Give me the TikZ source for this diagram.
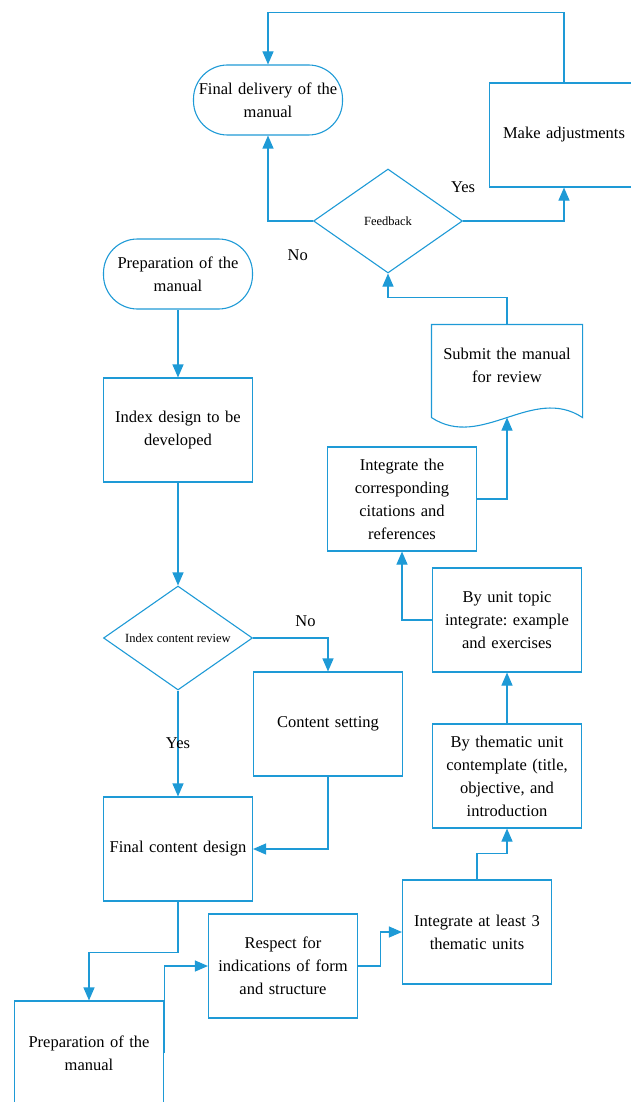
\documentclass[tikz,border=0pt]{standalone}
\usepackage{fontspec}
\setmainfont{Liberation Serif}
\usetikzlibrary{arrows.meta}
\usetikzlibrary{shapes.geometric}
\usetikzlibrary{shapes.misc}
\definecolor{flowblue}{RGB}{30,154,214}
\frenchspacing

\begin{document}
\begin{tikzpicture}[x = 1pt, y = 1pt]
\tikzset{
   >={Triangle[length = 13pt, width = 11pt]},
   base/.style = {draw = flowblue, line width = 1.1pt, text = black, align = center, inner sep = 0pt, font = \fontsize{16.5}{23}\selectfont},
   box/.style = {base, rectangle, minimum width = 149pt, minimum height = 104pt, text width = 140pt},
   terminal/.style = {box, rounded corners = 34pt, minimum height = 70pt},
   decision/.style = {base, diamond, aspect = 1.45, minimum width = 149pt, minimum height = 104pt, font = \fontsize{12.5}{15}\selectfont},
   doc/.style = {box, draw = none, minimum width = 150pt, minimum height = 92pt, text depth = 34pt},
   flow/.style = {draw = flowblue, line width = 1.1pt, ->},
   every edge/.style = {draw = flowblue, line width = 1.1pt},
   lbl/.style = {inner sep = 0pt, text = black, font = \fontsize{16.5}{20}\selectfont}
 }
  \useasboundingbox (0,0) rectangle (630,-1102);

  \node [terminal] (prep_start) at (178,-274) {Preparation of the\\manual};
  \node [box] (index_design) [node distance = 156pt, below of = prep_start] {Index design to be\\developed}
        edge [<-] (prep_start);
  \node [decision] (index_review) [node distance = 208pt, below of = index_design] {Index content review}
        edge [<-] (index_design);
  \node [box] (final_design) [node distance = 211pt, below of = index_review] {Final content design}
        edge [<-] node [lbl] {Yes} (index_review);
  \node [box] (content_setting) [node distance = 150pt, right of = index_review, yshift = -86pt] {Content setting};
  \node [box] (prep_manual) [node distance = 204pt, below of = final_design, xshift = -89pt] {Preparation of the\\manual};
  \node [box] (respect_form) [node distance = 105pt, right of = final_design, yshift = -117pt] {Respect for\\indications of form\\and structure};
  \node [box] (three_units) [node distance = 194pt, right of = respect_form, yshift = 34pt] {Integrate at least 3\\thematic units};
  \node [box] (unit_intro) [node distance = 156pt, above of = three_units, xshift = 30pt] {By thematic unit\\contemplate (title,\\objective, and\\introduction};
  \node [box] (unit_topic) [node distance = 156pt, above of = unit_intro] {By unit topic\\integrate: example\\and exercises}
        edge [<-] (unit_intro);
  \node [box] (citations) [node distance = 121pt, above of = unit_topic, xshift = -105pt] {Integrate the\\corresponding\\citations and\\references};
  \node [doc] (submit_review) [node distance = 128pt, above of = citations, xshift = 105pt] {Submit the manual\\for review};
  \node [decision] (feedback) [node distance = 150pt, above of = submit_review, xshift = -119pt] {Feedback};
  \node [terminal] (final_delivery) [node distance = 121pt, above of = feedback, xshift = -120pt] {Final delivery of the\\manual};
  \node [box] (adjustments) [node distance = 296pt, right of = final_delivery, yshift = -35pt] {Make adjustments};

  % document outline with the wavy bottom
  \draw [draw = flowblue, line width = 1.1pt] (submit_review.south west) -- (submit_review.north west) -- (submit_review.north east) -- (submit_review.south east)
        .. controls +(-50,33) and +(50,-33) .. (submit_review.south west);

  \draw [flow] (index_review.east) -| (content_setting.north)
        node [lbl, pos = 0.35, above = 11pt] {No};
  \draw [flow] (content_setting.south) |- (final_design.east);
  \draw [flow] (final_design.south) -- ++(0,-51) -| (prep_manual.north);
  \draw [flow] (prep_manual.east) |- (respect_form.west);
  \draw [flow] (respect_form.east) -- ++(22,0) |- (three_units.west);
  \draw [flow] (three_units.north) -- ++(0,26) -| (unit_intro.south);
  \draw [flow] (unit_topic.west) -| (citations.south);
  \draw [flow] (citations.east) -| (submit_review.south);
  \draw [flow] (submit_review.north) -- ++(0,27) -| (feedback.south);
  \draw [flow] (feedback.west) -| (final_delivery.south)
        node [lbl, pos = 0.17, below = 28pt] {No};
  \draw [flow] (feedback.east) -| (adjustments.south)
        node [lbl, pos = 0, above = 28pt] {Yes};
  \draw [flow] (adjustments.north) -- ++(0,70) -| (final_delivery.north);

\end{tikzpicture}
\end{document}
